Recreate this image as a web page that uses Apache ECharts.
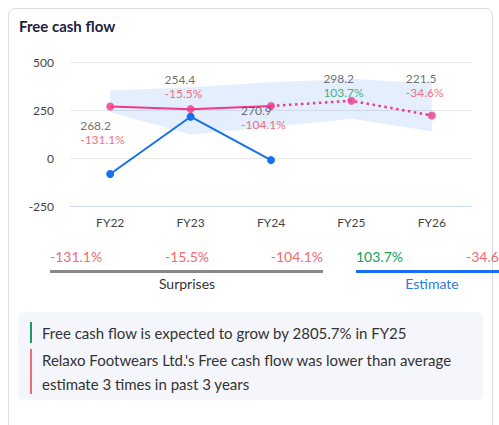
<!DOCTYPE html>
<html>
<head>
<meta charset="utf-8">
<title>Free cash flow</title>
<script src="https://cdn.jsdelivr.net/npm/echarts@6/dist/echarts.min.js"></script>
<style>
  html, body { margin: 0; padding: 0; background: #fff; }
  #chart { width: 499px; height: 425px; }
</style>
</head>
<body>
<div id="chart"></div>
<script>
// Fiscal years on the x axis
const categories = ['FY22', 'FY23', 'FY24', 'FY25', 'FY26'];
// Average analyst estimate per year
const estimate = [268.2, 254.4, 270.9, 298.2, 221.5];
// Reported free cash flow (history only)
const actual = [-83.4, 215.0, -11.0, null, null];
// Range of analyst estimates (low / high)
const estimateLow = [238, 122, 161, 204, 139];
const estimateHigh = [351, 369, 395, 412, 388];
// Surprise (history) and growth (forecast) percentages
const percentLabels = [-131.1, -15.5, -104.1, 103.7, -34.6];
// Y-axis ticks
const yTicks = [-250, 0, 250, 500];
// Notes under the chart
const notes = [
  { kind: 'good', lines: ['Free cash flow is expected to grow by 2805.7% in FY25'] },
  { kind: 'bad', lines: ["Relaxo Footwears Ltd.'s Free cash flow was lower than average", 'estimate 3 times in past 3 years'] }
];

const FONT = 'Lato, "Noto Sans", sans-serif';
const PINK = '#ee3a8b';
const BLUE = '#1570ef';
const RED = '#f04a59';
const ROW_RED = '#f26b70';
const GREEN = '#12a05a';
const histCount = 3;

const pctText = v => v.toFixed(1) + '%';

// Label placement around each estimate point (dx, dy of label block top-left)
const labelOffsets = [[-30, 12], [-26, -37], [-30, -2], [-28, -29], [-26, -44]];

const chart = echarts.init(document.getElementById('chart'), null, { renderer: 'svg' });

const solidEst = estimate.map((v, i) => (i < histCount ? v : null));
const dottedEst = estimate.map((v, i) => (i >= histCount - 1 ? v : null));
const bandSpan = estimateHigh.map((h, i) => h - estimateLow[i]);

const pointData = estimate.map((v, i) => ({
  value: v,
  label: {
    show: true,
    position: 'inside',
    align: 'left',
    verticalAlign: 'top',
    offset: labelOffsets[i],
    formatter: '{v|' + v.toFixed(1) + '}\n{' + (percentLabels[i] >= 0 ? 'g' : 'r') + '|' + pctText(percentLabels[i]) + '}',
    rich: {
      v: { color: '#4a4a4a', fontSize: 12, fontFamily: FONT, lineHeight: 14 },
      r: { color: RED, fontSize: 12, fontFamily: FONT, lineHeight: 14 },
      g: { color: GREEN, fontSize: 12, fontFamily: FONT, lineHeight: 14 }
    }
  }
}));

// Surprise / estimate row under the plot
const rowY = 256;
const pctAnchors = [
  { x: 50, align: 'left' },
  { x: 187, align: 'center' },
  { x: 323, align: 'right' },
  { x: 356, align: 'left' },
  { x: 466, align: 'left' }
];
const rowTexts = percentLabels.map((p, i) => ({
  type: 'text',
  x: pctAnchors[i].x,
  y: rowY,
  style: {
    text: pctText(p),
    fill: p >= 0 ? GREEN : ROW_RED,
    font: '14px ' + FONT,
    align: pctAnchors[i].align,
    verticalAlign: 'middle'
  }
}));

// Notes box
const noteElems = [];
let ny = 322;
notes.forEach(n => {
  const h = n.lines.length * 24 - 3;
  noteElems.push({
    type: 'rect',
    shape: { x: 30, y: ny, width: 2, height: h },
    style: { fill: n.kind === 'good' ? GREEN : ROW_RED }
  });
  n.lines.forEach((ln, k) => {
    noteElems.push({
      type: 'text',
      x: 42,
      y: ny + 11 + k * 24,
      style: { text: ln, fill: '#333', font: '15px ' + FONT, verticalAlign: 'middle' }
    });
  });
  ny += h + 6;
});

const option = {
  animation: false,
  textStyle: { fontFamily: FONT },
  grid: { left: 70, right: 27, top: 62, bottom: 219 },
  xAxis: {
    type: 'category',
    data: categories,
    boundaryGap: true,
    axisLine: { onZero: false, lineStyle: { color: '#ccd6eb', width: 1 } },
    axisTick: { show: false },
    axisLabel: { color: '#444', fontSize: 12, fontFamily: FONT, margin: 10 }
  },
  yAxis: {
    type: 'value',
    min: yTicks[0],
    max: yTicks[yTicks.length - 1],
    interval: yTicks[1] - yTicks[0],
    axisLine: { show: false },
    axisTick: { show: false },
    axisLabel: { color: '#444', fontSize: 12, fontFamily: FONT, margin: 16 },
    splitLine: { lineStyle: { color: '#e6e6e6', width: 1 } }
  },
  series: [
    {
      name: 'Low',
      type: 'line',
      stack: 'band',
      data: estimateLow,
      showSymbol: false,
      lineStyle: { width: 0, opacity: 0 },
      areaStyle: { opacity: 0 },
      silent: true,
      z: 1
    },
    {
      name: 'Range',
      type: 'line',
      stack: 'band',
      data: bandSpan,
      showSymbol: false,
      lineStyle: { width: 0, opacity: 0 },
      areaStyle: { color: 'rgba(50,120,240,0.13)', opacity: 1 },
      silent: true,
      z: 1
    },
    {
      name: 'Estimate',
      type: 'line',
      data: solidEst,
      showSymbol: false,
      lineStyle: { color: PINK, width: 2 },
      z: 3
    },
    {
      name: 'Estimate forecast',
      type: 'line',
      data: dottedEst,
      showSymbol: false,
      lineStyle: { color: PINK, width: 2.5, type: [2.5, 3.5] },
      z: 3
    },
    {
      name: 'Actual',
      type: 'line',
      data: actual,
      symbol: 'circle',
      symbolSize: 8,
      showSymbol: true,
      itemStyle: { color: BLUE },
      lineStyle: { color: BLUE, width: 2 },
      z: 4
    },
    {
      name: 'Estimate points',
      type: 'scatter',
      data: pointData,
      symbol: 'circle',
      symbolSize: 8,
      itemStyle: { color: PINK },
      z: 5
    }
  ],
  graphic: [
    {
      type: 'rect',
      shape: { x: 8.5, y: 8.5, width: 484, height: 440, r: 7 },
      style: { fill: 'none', stroke: '#dcdcdc', lineWidth: 1 },
      z: -10
    },
    {
      type: 'text',
      x: 19,
      y: 26,
      style: { text: 'Free cash flow', fill: '#1d2242', font: 'bold 15px ' + FONT, verticalAlign: 'middle' }
    },
    ...rowTexts,
    { type: 'rect', shape: { x: 50, y: 270, width: 273, height: 3 }, style: { fill: '#888' } },
    { type: 'rect', shape: { x: 356, y: 270, width: 160, height: 3 }, style: { fill: '#1a6ef5' } },
    {
      type: 'text', x: 187, y: 283.5,
      style: { text: 'Surprises', fill: '#333', font: '14px ' + FONT, align: 'center', verticalAlign: 'middle' }
    },
    {
      type: 'text', x: 432, y: 283.5,
      style: { text: 'Estimate', fill: '#2a7ae2', font: '14px ' + FONT, align: 'center', verticalAlign: 'middle' }
    },
    {
      type: 'rect',
      shape: { x: 18, y: 312, width: 465, height: 88, r: 5 },
      style: { fill: '#f5f6fb' },
      z: -5
    },
    ...noteElems
  ]
};

chart.setOption(option);
</script>
</body>
</html>
